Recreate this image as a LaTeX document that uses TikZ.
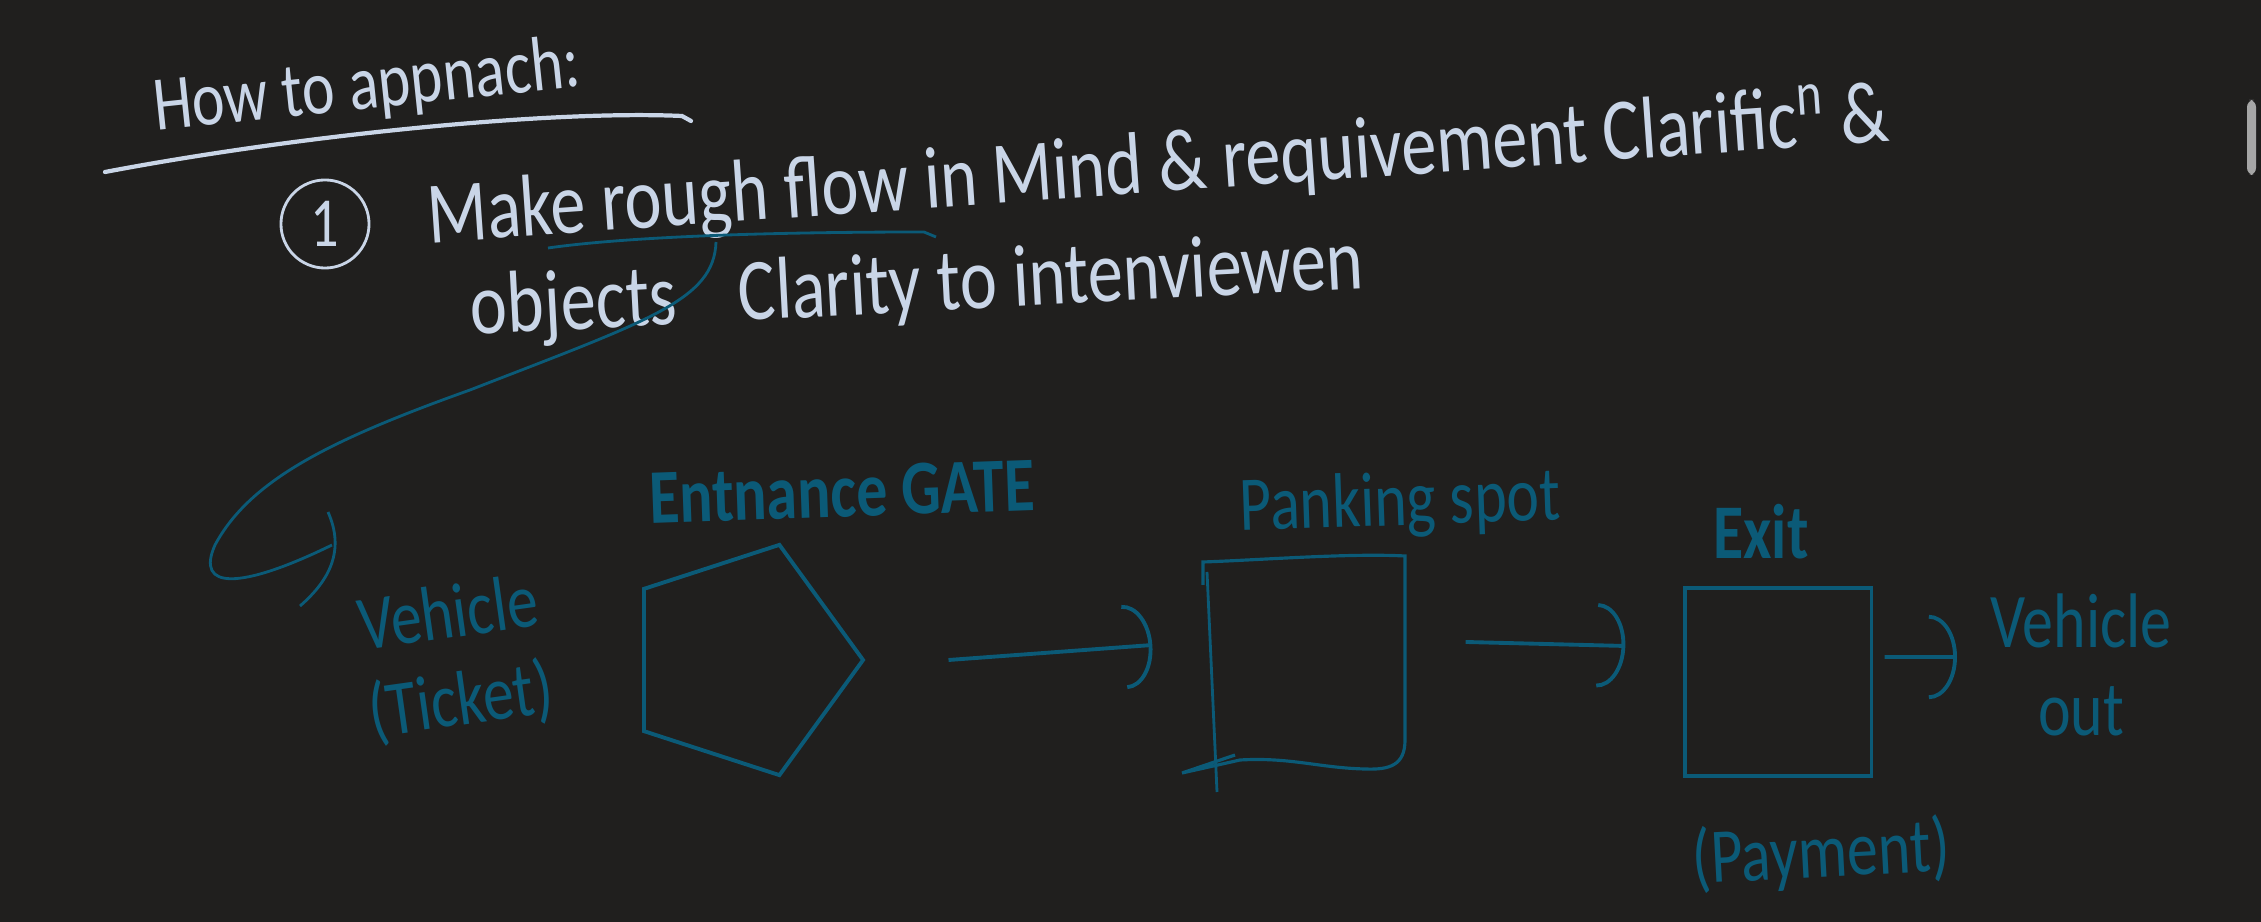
\documentclass[tikz,border=0pt]{standalone}
\usepackage{fontspec}
\newfontfamily\handfont[FakeStretch=0.8]{Carlito}
\usetikzlibrary{arrows.meta, shapes.geometric}
\definecolor{board}{HTML}{201F1E}
\definecolor{chalk}{HTML}{C9D5E7}
\definecolor{teal}{HTML}{0B5A77}
\tikzset{note/.style={text=chalk,font=\handfont\fontsize{25}{28}\selectfont,inner sep=0pt},
tag/.style={text=teal,font=\handfont\fontsize{22}{25}\selectfont,inner sep=0pt,align=center},
box/.style={draw=teal,line width=0.9pt,inner sep=0pt},
flow/.style={draw=teal,line width=1.1pt,-{Arc Barb[length=8pt,width=24pt]}}}

\begin{document}
\begin{tikzpicture}[x=0.01cm,y=-0.01cm]
\useasboundingbox (0,0) rectangle (2261,922);
\fill[board] (0,0) rectangle (2261,922);
\fill[gray!70,rounded corners=2pt] (2247,100) rectangle (2256,175);
% heading and notes
\node[note,font=\handfont\fontsize{22}{25}\selectfont,rotate=6] (title) at (367,88) {How to appnach:};
\draw[chalk,line width=1.2pt,line cap=round] (105,172) .. controls (300,135) and (550,110) .. (682,116) -- (691,121);
\node[circle,draw=chalk,line width=0.8pt,minimum size=0.88cm,text=chalk,font=\handfont\fontsize{20}{24}\selectfont] (one) at (325,224) {1};
\node[note,anchor=west,rotate=4] (step1) at (427,220) {Make rough flow in Mind \& requivement Clarific\textsuperscript{n} \&};
\node[note,anchor=west,rotate=3] (step2) at (470,312) {objects\hspace{0.7em}Clarity to intenviewen};
% link from the note down to the vehicle
\draw[teal,line width=0.8pt] (548,248) .. controls (640,235) and (800,232) .. (924,232) -- (936,237);
\draw[teal,line width=0.8pt] (716,242) .. controls (714,300) and (650,320) .. (470,390) .. controls (330,440) and (250,480) .. (215,545) .. controls (195,590) and (240,590) .. (332,545);
\draw[teal,line width=0.8pt] (328,512) .. controls (345,550) and (330,580) .. (300,606);
% flow
\node[tag,rotate=8] (veh) at (455,660) {Vehicle\\(Ticket)};
\node[regular polygon,regular polygon sides=5,shape border rotate=-90,box,line width=1.1pt,minimum size=2.42cm] (gate) at (742,660) {};
\node[tag,font=\handfont\bfseries\fontsize{22}{25}\selectfont,rotate=2] (gatelbl) at (842,492) {Entnance GATE};
\node[box,draw=none,minimum width=2cm,minimum height=2.07cm] (spot) at (1305,662) {};
\draw[teal,line width=0.9pt] (1203,585) -- (1203,562) .. controls (1260,560) and (1350,553) .. (1405,556) -- (1405,740) .. controls (1405,765) and (1390,770) .. (1365,769) .. controls (1320,768) and (1290,757) .. (1240,760) -- (1182,773) -- (1235,755);
\draw[teal,line width=0.8pt] (1207,572) -- (1217,792);
\node[tag,rotate=2] (spotlbl) at (1400,505) {Panking spot};
\node[box,minimum width=1.86cm,minimum height=1.88cm] (exitbox) at (1778,682) {};
\node[tag,font=\handfont\bfseries\fontsize{22}{25}\selectfont] (exitlbl) at (1761,532) {Exit};
\node[tag,rotate=3] (pay) at (1821,855) {(Payment)};
\node[tag,anchor=west] (vout) at (1990,665) {Vehicle\\out};
\draw[flow] ([xshift=0.83cm]gate.east) -- ([xshift=-0.51cm,yshift=0.17cm]spot.west);
\draw[flow] ([xshift=0.59cm,yshift=0.2cm]spot.east) -- ([xshift=-0.58cm,yshift=0.36cm]exitbox.west);
\draw[flow] ([xshift=0.12cm,yshift=0.25cm]exitbox.east) -- ([xshift=-0.33cm,yshift=0.08cm]vout.west);
\end{tikzpicture}
\end{document}
